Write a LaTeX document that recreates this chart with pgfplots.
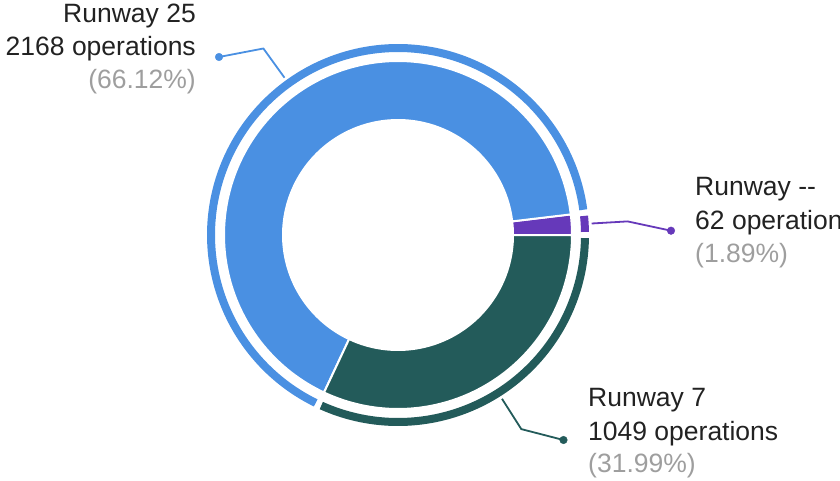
\documentclass[border=0pt]{standalone}
\usepackage{pgfplots}
\pgfplotsset{compat=1.18}
\usepackage{fontspec}
\setmainfont{Liberation Sans}
\definecolor{cBlue}{HTML}{4A90E2}
\definecolor{cTeal}{HTML}{235B5A}
\definecolor{cPurple}{HTML}{6639BA}
\definecolor{cText}{HTML}{222222}
\definecolor{cGray}{HTML}{9E9E9E}

% data: share of operations (percent)
\def\pctA{1.89}   % Runway --  (62)
\def\pctB{66.12}  % Runway 25 (2168)
\def\pctC{31.99}  % Runway 7  (1049)

\pgfmathsetmacro\aA{0}
\pgfmathsetmacro\aB{\aA+3.6*\pctA}
\pgfmathsetmacro\aC{\aB+3.6*\pctB}
\pgfmathsetmacro\aD{\aC+3.6*\pctC}
\pgfmathsetmacro\tr{0.95}
\pgfmathsetmacro\rAs{\aA+\tr}\pgfmathsetmacro\rAe{\aB-\tr}
\pgfmathsetmacro\rBs{\aB+\tr}\pgfmathsetmacro\rBe{\aC-\tr}
\pgfmathsetmacro\rCs{\aC+\tr}\pgfmathsetmacro\rCe{\aD-\tr}

\newcommand{\lbl}{\fontsize{26.5}{30}\selectfont}

\begin{document}
\begin{tikzpicture}
\begin{axis}[
  x=1pt, y=1pt,
  xmin=0, xmax=840, ymin=0, ymax=480,
  hide axis, clip=false,
]
% pie sectors (white separators)
\addplot[fill=cPurple, draw=white, line width=2pt, domain=\aA:\aB, samples=10]
  ({398+174*cos(x)},{245+174*sin(x)}) -- (axis cs:398,245) -- cycle;
\addplot[fill=cBlue, draw=white, line width=2pt, domain=\aB:\aC, samples=150]
  ({398+174*cos(x)},{245+174*sin(x)}) -- (axis cs:398,245) -- cycle;
\addplot[fill=cTeal, draw=white, line width=2pt, domain=\aC:\aD, samples=80]
  ({398+174*cos(x)},{245+174*sin(x)}) -- (axis cs:398,245) -- cycle;
% donut hole
\addplot[fill=white, draw=none, domain=0:360, samples=180]
  ({398+116*cos(x)},{245+116*sin(x)}) -- cycle;
% outer ring
\addplot[draw=cPurple, line width=8pt, domain=\rAs:\rAe, samples=10]
  ({398+187*cos(x)},{245+187*sin(x)});
\addplot[draw=cBlue, line width=8pt, domain=\rBs:\rBe, samples=150]
  ({398+187*cos(x)},{245+187*sin(x)});
\addplot[draw=cTeal, line width=8pt, domain=\rCs:\rCe, samples=80]
  ({398+187*cos(x)},{245+187*sin(x)});
% leaders
\addplot[draw=cBlue, line width=1.8pt] coordinates {(284.5,402.3) (263.4,431.5) (219,423)};
\addplot[only marks, mark=*, mark size=3.8pt, color=cBlue] coordinates {(219,423)};
\addplot[draw=cPurple, line width=1.8pt] coordinates {(591.7,256.5) (627.6,258.6) (671,249.3)};
\addplot[only marks, mark=*, mark size=3.8pt, color=cPurple] coordinates {(671,249.3)};
\addplot[draw=cTeal, line width=1.8pt] coordinates {(502.0,81.2) (521.3,50.9) (563.5,40)};
\addplot[only marks, mark=*, mark size=3.8pt, color=cTeal] coordinates {(563.5,40)};
% labels
\node[anchor=base east, inner sep=0, font=\lbl, text=cText] at (axis cs:196,457.5) {Runway 25};
\node[anchor=base east, inner sep=0, font=\lbl, text=cText] at (axis cs:196,424.5) {2168 operations};
\node[anchor=base east, inner sep=0, font=\lbl, text=cGray] at (axis cs:196,391.5) {(66.12\%)};
\node[anchor=base west, inner sep=0, font=\lbl, text=cText] at (axis cs:695,284) {Runway -{}-};
\node[anchor=base west, inner sep=0, font=\lbl, text=cText] at (axis cs:695,251) {62 operations};
\node[anchor=base west, inner sep=0, font=\lbl, text=cGray] at (axis cs:695,218) {(1.89\%)};
\node[anchor=base west, inner sep=0, font=\lbl, text=cText] at (axis cs:588,74) {Runway 7};
\node[anchor=base west, inner sep=0, font=\lbl, text=cText] at (axis cs:588,40) {1049 operations};
\node[anchor=base west, inner sep=0, font=\lbl, text=cGray] at (axis cs:588,8) {(31.99\%)};
\end{axis}
\pgfresetboundingbox
\path (0,0) rectangle (840pt,480pt);
\end{tikzpicture}
\end{document}
